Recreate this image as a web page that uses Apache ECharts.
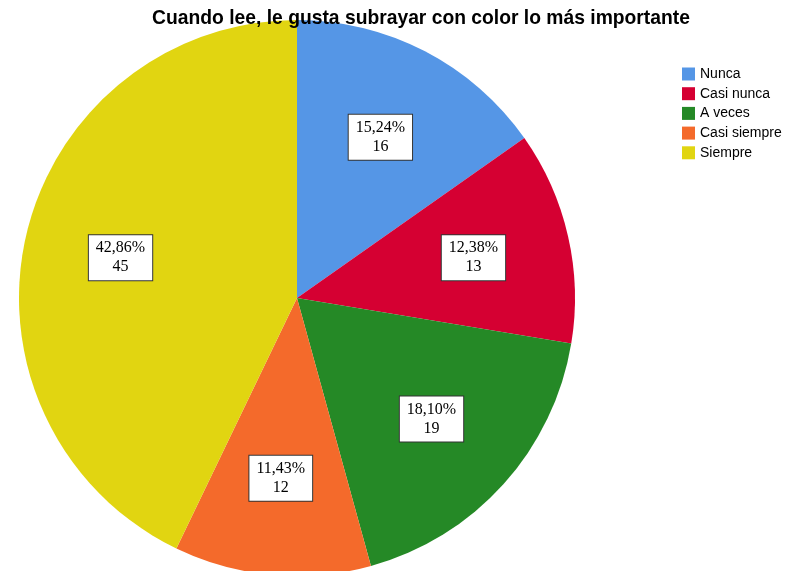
<!DOCTYPE html>
<html>
<head>
<meta charset="utf-8">
<script src="https://cdn.jsdelivr.net/npm/echarts@6/dist/echarts.min.js"></script>
<style>html,body{margin:0;padding:0;background:#fff}#c{width:796px;height:571px}</style>
</head>
<body>
<div id="c"></div>
<script>
const titleText = 'Cuando lee, le gusta subrayar con color lo más importante';
const categories = ['Nunca', 'Casi nunca', 'A veces', 'Casi siempre', 'Siempre'];
const counts = [16, 13, 19, 12, 45];
const colors = ['#5596e6', '#d50032', '#258926', '#f46a2b', '#e1d511'];

const total = counts.reduce((a, b) => a + b, 0);
const pieData = categories.map((n, i) => ({ name: n, value: counts[i], itemStyle: { color: colors[i] } }));
const labelData = categories.map((n, i) => ({ name: n, value: counts[i], itemStyle: { color: 'rgba(0,0,0,0)' } }));

const chart = echarts.init(document.getElementById('c'));
chart.setOption({
  animation: false,
  title: {
    text: titleText,
    left: 416, top: 4, textAlign: 'center',
    textStyle: { fontFamily: 'Liberation Sans', fontWeight: 'bold', fontSize: 19.3, color: '#000' }
  },
  legend: {
    orient: 'vertical', left: 677, top: 62,
    itemWidth: 13, itemHeight: 13, itemGap: 5.7,
    icon: 'rect',
    data: categories,
    textStyle: { fontFamily: 'Liberation Sans', fontSize: 14, color: '#000' },
    selectedMode: false
  },
  series: [
    {
      type: 'pie', center: [297, 298], radius: [0, 278],
      startAngle: 90, clockwise: true,
      label: { show: false }, labelLine: { show: false },
      emphasis: { disabled: true },
      silent: true,
      data: pieData
    },
    {
      type: 'pie', center: [297, 298], radius: [0, 356],
      startAngle: 90, clockwise: true,
      silent: true,
      emphasis: { disabled: true },
      labelLine: { show: false },
      label: {
        show: true, position: 'inside',
        fontFamily: 'Liberation Serif', fontSize: 16, color: '#000', lineHeight: 19,
        backgroundColor: '#fff', borderColor: '#333', borderWidth: 1,
        padding: [4, 7, 3, 7],
        formatter: p => (p.value / total * 100).toFixed(2).replace('.', ',') + '%\n' + p.value
      },
      data: labelData
    }
  ]
});
</script>
</body>
</html>
